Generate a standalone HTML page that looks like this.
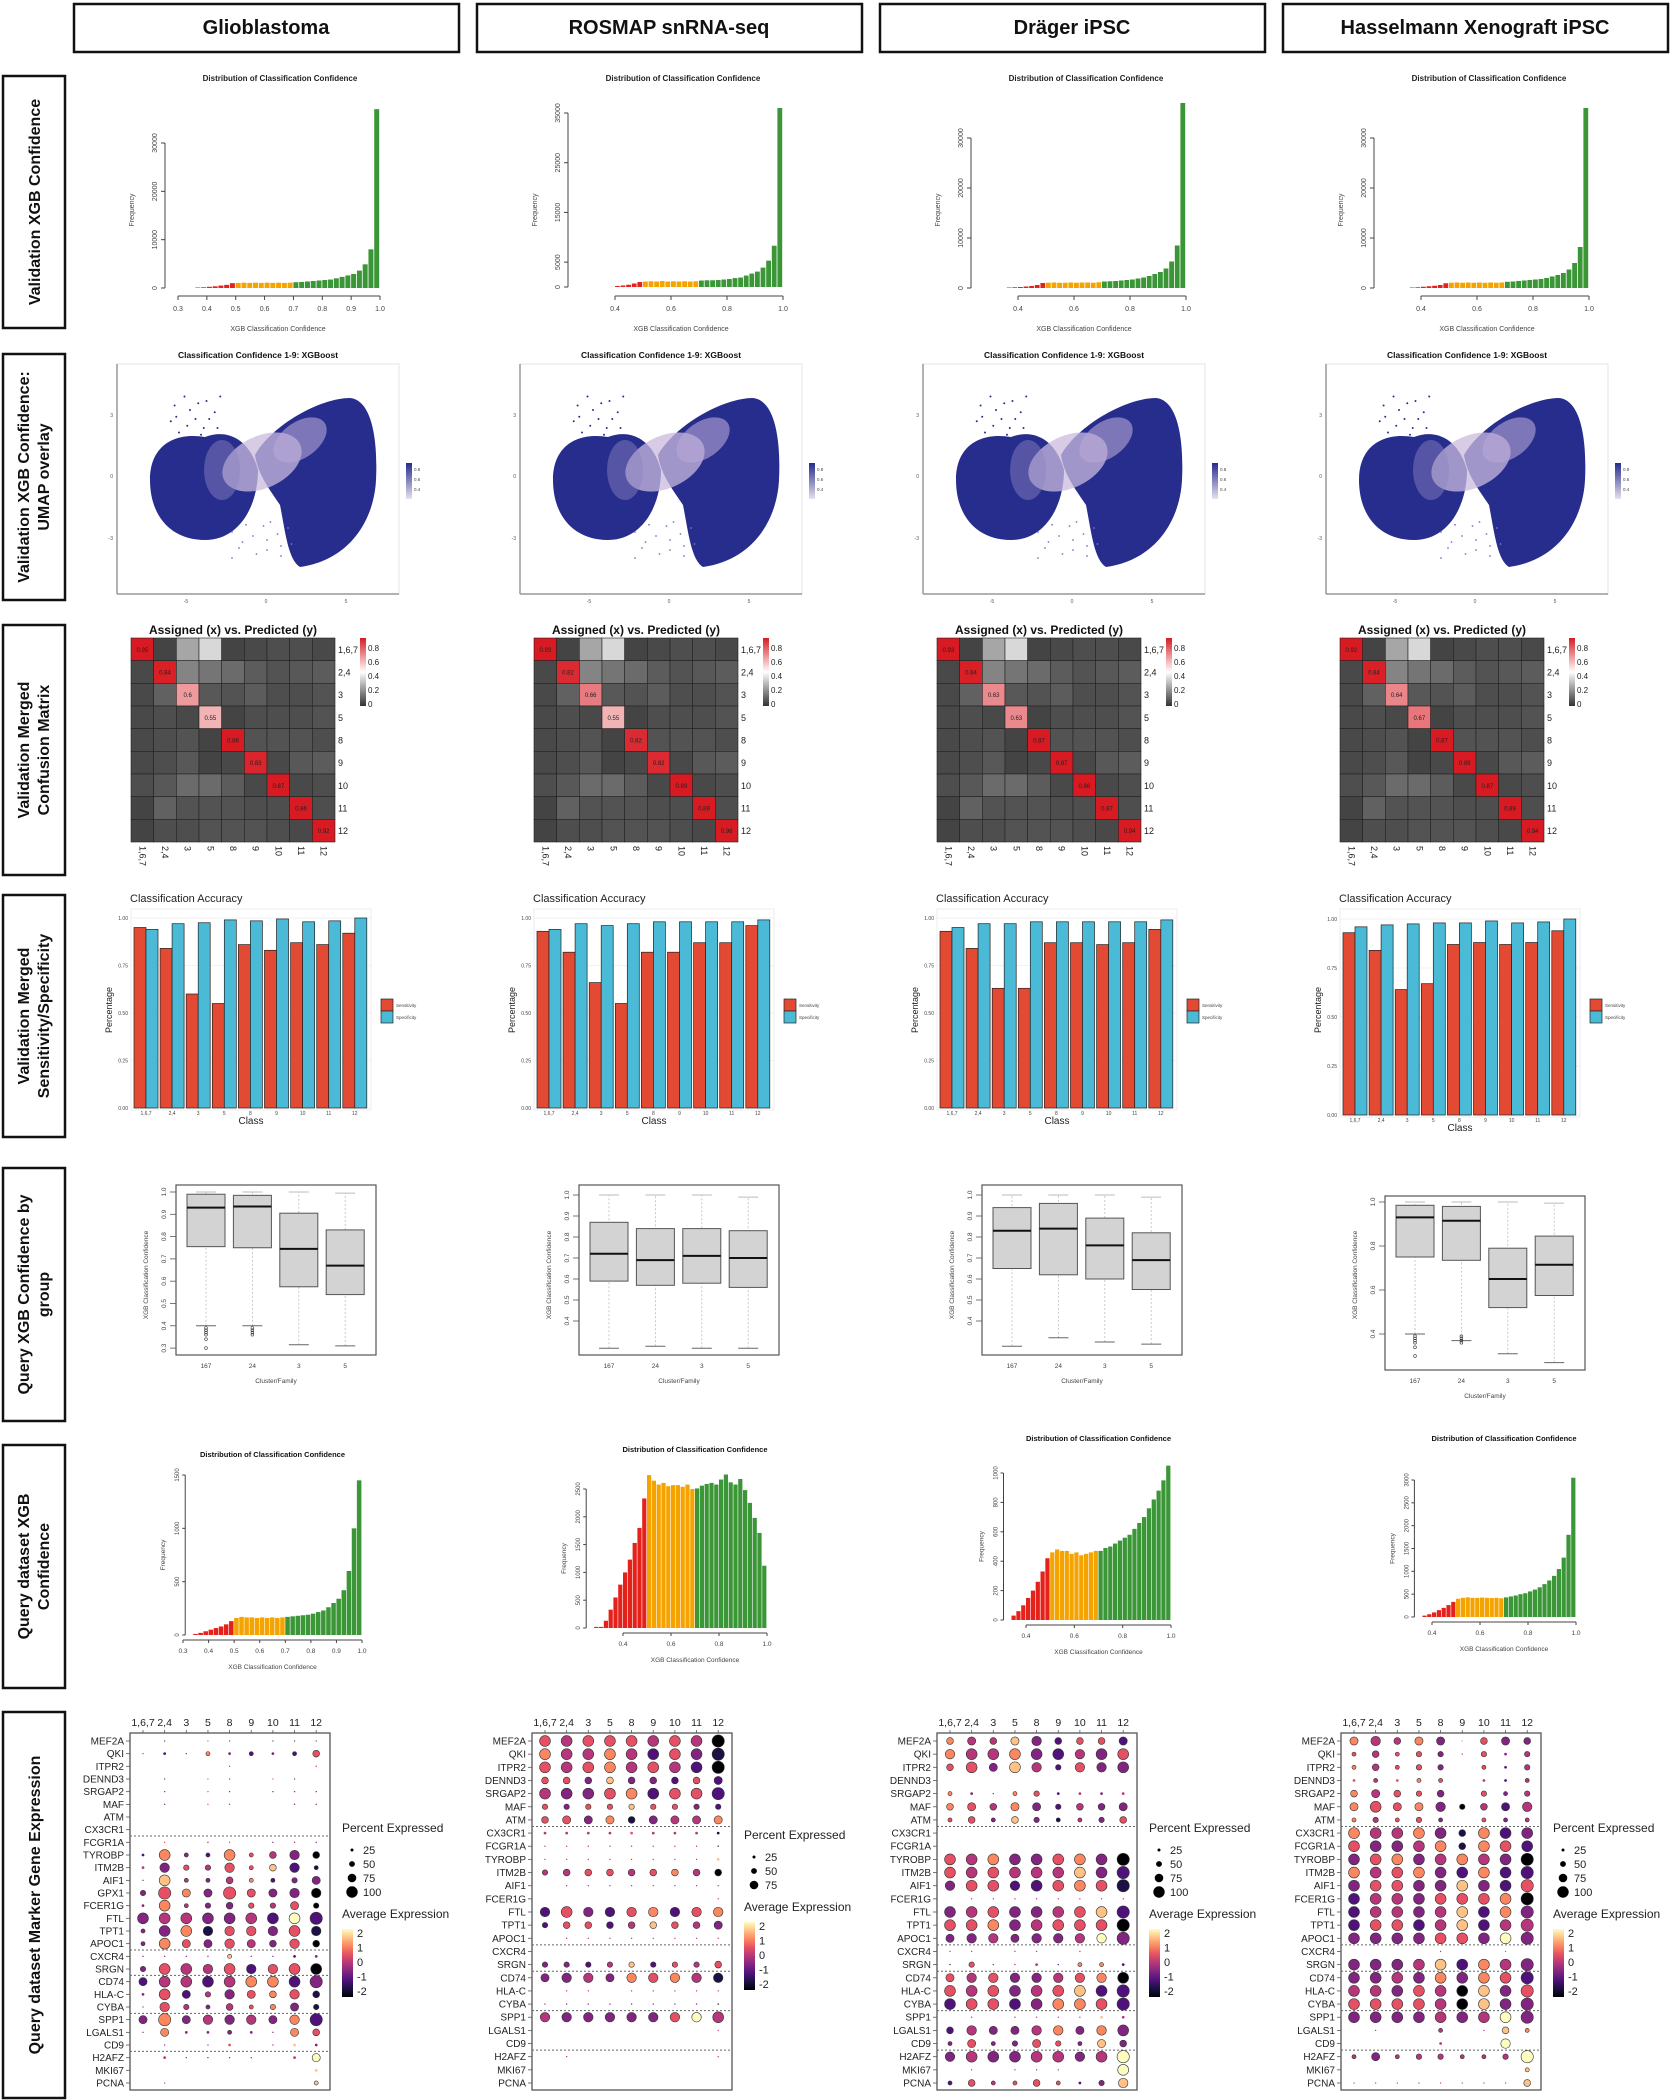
<!DOCTYPE html>
<html><head><meta charset="utf-8"><title>XGB classification figure</title>
<style>html,body{margin:0;padding:0;background:#fff;}svg{display:block;}</style></head>
<body>
<svg id="fig" xmlns="http://www.w3.org/2000/svg" width="1673" height="2100" viewBox="0 0 1673 2100"></svg>
<script>
// ---------- DATA ----------
const datasets=["Glioblastoma","ROSMAP snRNA-seq","Dr\u00e4ger iPSC","Hasselmann Xenograft iPSC"];
const rowLabels=[["Validation XGB Confidence"],["Validation XGB Confidence:","UMAP overlay"],["Validation Merged","Confusion Matrix"],["Validation Merged","Sensitivity/Specificity"],["Query XGB Confidence by","group"],["Query dataset  XGB","Confidence"],["Query dataset Marker Gene Expression"]];
const classes=["1,6,7","2,4","3","5","8","9","10","11","12"];
const groups=["167","24","3","5"];
// validation histogram
const valStart=[0.36,0.40,0.36,0.36];
const valCounts=[
[100,150,250,350,500,650,1000,1050,1100,1050,1100,1050,1100,1050,1100,1050,1100,1200,1250,1350,1450,1550,1650,1750,2000,2300,2600,2900,3600,4900,8000,37000],
[200,300,450,700,1000,1100,1150,1100,1200,1100,1150,1100,1150,1100,1150,1300,1350,1350,1400,1500,1600,1800,1900,2300,2700,3100,3900,5300,8300,36000],
[100,150,200,300,400,600,1000,1050,1100,1050,1050,1100,1050,1100,1100,1050,1150,1300,1350,1400,1500,1600,1700,1900,2100,2400,2800,3200,3900,5300,8500,37000],
[100,150,250,350,450,600,950,1050,1100,1050,1100,1050,1100,1050,1100,1050,1100,1250,1300,1400,1500,1600,1700,1800,2000,2300,2600,3000,3700,5000,8200,36000]];
const valYTicks=[[0,10000,20000,30000],[0,5000,15000,25000,35000],[0,10000,20000,30000],[0,10000,20000,30000]];
// confusion
const confDiag=[[0.95,0.84,0.6,0.55,0.86,0.83,0.87,0.86,0.92],[0.93,0.82,0.66,0.55,0.82,0.82,0.89,0.89,0.96],[0.93,0.84,0.63,0.63,0.87,0.87,0.86,0.87,0.94],[0.92,0.84,0.64,0.67,0.87,0.89,0.87,0.89,0.94]];
const confOff=[[0,.02,.22,.32,.02,.03,.04,.04,.03],[.03,0,.15,.12,.1,.07,.05,.06,.07],[.03,.08,0,.06,.05,.07,.04,.04,.05],[.03,.04,.03,0,.02,.04,.04,.04,.05],[.03,.04,.05,.02,0,.05,.05,.05,.04],[.03,.04,.06,.02,.03,0,.03,.06,.07],[.04,.06,.1,.1,.07,.03,0,.03,.04],[.02,.08,.05,.05,.05,.04,.04,0,.04],[.02,.04,.04,.05,.05,.05,.04,.03,0]];
// sensitivity / specificity
const sens=[[0.95,0.84,0.60,0.55,0.86,0.83,0.87,0.86,0.92],[0.93,0.82,0.66,0.55,0.82,0.82,0.87,0.87,0.96],[0.93,0.84,0.63,0.63,0.87,0.87,0.86,0.87,0.94],[0.93,0.84,0.64,0.67,0.87,0.88,0.87,0.88,0.94]];
const spec=[[0.94,0.97,0.975,0.99,0.985,0.995,0.98,0.985,1.0],[0.94,0.97,0.96,0.97,0.98,0.98,0.98,0.98,0.99],[0.95,0.97,0.97,0.98,0.98,0.98,0.98,0.98,0.99],[0.96,0.97,0.975,0.98,0.98,0.99,0.98,0.985,1.0]];
// boxplots [lowWhisker,q1,median,q3,highWhisker]
const boxStats=[
[[0.40,0.755,0.93,0.99,1.0],[0.40,0.75,0.935,0.985,1.0],[0.315,0.575,0.745,0.905,1.0],[0.31,0.54,0.67,0.83,0.995]],
[[0.27,0.59,0.72,0.87,1.0],[0.28,0.57,0.69,0.84,1.0],[0.27,0.58,0.71,0.84,1.0],[0.27,0.56,0.70,0.83,0.99]],
[[0.28,0.65,0.83,0.94,1.0],[0.32,0.62,0.84,0.96,1.0],[0.30,0.60,0.76,0.89,1.0],[0.29,0.55,0.69,0.82,0.99]],
[[0.40,0.75,0.93,0.985,1.0],[0.37,0.735,0.915,0.98,1.0],[0.31,0.52,0.65,0.79,1.0],[0.27,0.575,0.715,0.845,0.995]]];
const boxOutliers=[[0.39,0.38,0.37,0.36,0.34,0.30],[0.39,0.38,0.37,0.36],[],[]];
const boxYTicks=[[0.3,0.4,0.5,0.6,0.7,0.8,0.9,1.0],[0.4,0.5,0.6,0.7,0.8,0.9,1.0],[0.4,0.5,0.6,0.7,0.8,0.9,1.0],[0.4,0.6,0.8,1.0]];
// query histograms
const qStart=[0.34,0.28,0.34,0.36];
const qCounts=[
[10,20,35,50,65,80,100,130,160,170,165,165,160,165,160,165,160,165,170,175,180,185,190,200,215,230,260,300,340,420,600,1000,1450],
[20,20,130,330,550,780,1000,1230,1530,1800,2330,2750,2650,2580,2610,2550,2570,2570,2540,2580,2500,2510,2560,2590,2610,2580,2670,2760,2620,2580,2680,2480,2250,1980,1710,1120],
[30,60,100,150,200,260,330,420,460,480,470,470,450,460,440,450,460,470,470,490,500,520,540,560,580,620,660,700,760,820,880,950,1050],
[30,60,100,150,200,260,330,400,420,430,420,420,425,420,415,420,410,430,450,470,500,520,560,600,650,720,800,900,1050,1300,1800,3050]];
const qYTicks=[[0,500,1000,1500],[0,500,1000,1500,2000,2500],[0,200,400,600,800,1000],[0,500,1000,1500,2000,2500,3000]];
const qXTicks=[[0.3,0.4,0.5,0.6,0.7,0.8,0.9,1.0],[0.4,0.6,0.8,1.0],[0.4,0.6,0.8,1.0],[0.4,0.6,0.8,1.0]];
// dot plots
const genesGlio=["MEF2A","QKI","ITPR2","DENND3","SRGAP2","MAF","ATM","CX3CR1","FCGR1A","TYROBP","ITM2B","AIF1","GPX1","FCER1G","FTL","TPT1","APOC1","CXCR4","SRGN","CD74","HLA-C","CYBA","SPP1","LGALS1","CD9","H2AFZ","MKI67","PCNA"];
const genesOther=["MEF2A","QKI","ITPR2","DENND3","SRGAP2","MAF","ATM","CX3CR1","FCGR1A","TYROBP","ITM2B","AIF1","FCER1G","FTL","TPT1","APOC1","CXCR4","SRGN","CD74","HLA-C","CYBA","SPP1","LGALS1","CD9","H2AFZ","MKI67","PCNA"];
const dotPct=[
["010110111","121323235","000010001","010110110","010110111","010110011","000000000","000000000","010110111","283383575","274473573","183353346","496696677","283454464","888888889","388777787","386676575","111131122","488787788","688888889","286476575","174353464","696777679","162232165","010120122","021111026","000000002","010000003"],
["888888889","888888889","888888889","555555556","888888889","444444444","566656666","222222222","111111111","111111112","455555555","011111111","000000001","787777777","455555556","011111111","000000000","444444445","677677777","011011111","111111111","777777778","000000001","000000000","010000001","000000000","000000000"],
["565675556","788888788","586874778","000000000","321342222","565664556","353543345","000000000","000000000","888888889","888888889","788788889","011111111","888888889","888888889","677677779","110110100","141121332","677777778","888888889","888888889","010111122","576677678","363464365","788888789","010111008","353353247"],
["675661565","353441424","353440324","232330223","565450434","686674567","343430333","888885888","888885888","888888889","888888889","888888889","888888889","888888889","888888889","888888889","000010010","888888889","888888889","888888889","888888889","888888889","010030153","000020070","363443349","000000003","111111115"]];
const dotExp=[
["333533333","423632325","444444444","333533533","333533333","333543333","444444444","444444444","353353343","263265430","435455721","374346233","356355330","364335450","344334282","336155351","365354350","333373323","354452550","244246623","352435651","354345631","363434362","363333365","333353373","343333348","444444447","444444447"],
["545554540","644642531","545645420","553733252","433562552","535575532","553613446","444454441","444444441","444444447","445545640","444444444","444444444","253256256","255247543","444444444","444444444","332472545","334365641","444444444","433333330","433333584","444444444","444444444","444444444","444444444","444444444"],
["644732552","644632435","553742533","444444444","633652434","654632433","553731435","444444444","444444444","546335630","545444732","355225651","344444444","345334572","556345550","334333483","444444444","253442662","545334560","545345722","255236652","444444474","243346363","353355373","343344348","444444448","254555237"],
["644636533","545534534","645534524","545654424","645535534","655630424","645534534","644631623","533461652","356346430","645632622","355337325","244355560","244347263","255247244","333355383","444444454","333472643","334363652","443540735","555540733","333343483","444444476","444444484","434444448","444444447","444444447"]];
const dotSeps=[[8,17,19,22,25],[7,16,18,21,24],[7,16,18,21,24],[7,16,18,21,24]];
const pctLegend=[["25","50","75","100"],["25","50","75"],["25","50","75","100"],["25","50","75","100"]];
const expTicks=["2","1","0","-1","-2"];

// ---------- HELPERS ----------
const NS='http://www.w3.org/2000/svg';
const svg=document.getElementById('fig');
const DX=[0,403,806,1209];
const FONT='"Liberation Sans", Arial, sans-serif';
const MAGMA=["#000004","#1c1044","#4f127b","#812581","#b5367a","#e55064","#fb8761","#fec287","#fcfdbf"];
function mk(tag,attrs,name,parent){
  const e=document.createElementNS(NS,tag);
  for(const k in attrs) e.setAttribute(k,attrs[k]);
  
  
  (parent||svg).appendChild(e);
  return e;
}
function tx(x,y,s,o,name,parent){
  const a=Object.assign({x:x,y:y,'font-family':FONT,fill:'#222'},o||{});
  const e=mk('text',a,name,parent); e.textContent=s; return e;
}
function lin(x1,y1,x2,y2,st,w,name,p,extra){
  return mk('line',Object.assign({x1:x1,y1:y1,x2:x2,y2:y2,stroke:st,'stroke-width':w},extra||{}),name,p);
}
function binColor(v){const r=Math.round(v*100);return r<50?'#e5211b':(r<70?'#f5a300':'#3a9636');}
function hexMix(a,b,t){const pa=[1,3,5].map(i=>parseInt(a.substr(i,2),16)),pb=[1,3,5].map(i=>parseInt(b.substr(i,2),16));
  return 'rgb('+pa.map((v,i)=>Math.round(v+(pb[i]-v)*t)).join(',')+')';}
function confColor(v){if(v<=0.4)return hexMix('#3a3a3a','#ffffff',v/0.4);return hexMix('#ffffff','#d81b22',Math.min(1,(v-0.4)/0.45));}

// ---------- HEADERS & ROW LABELS ----------
for(let c=0;c<4;c++){
  const g=mk('g',{},'dataset-header-'+c);
  mk('rect',{x:74+DX[c],y:4,width:385,height:48,fill:'#fff',stroke:'#111','stroke-width':2.5},'header-box',g);
  tx(74+DX[c]+192,34,datasets[c],{'font-size':20,'font-weight':'bold','text-anchor':'middle',fill:'#111'},'header-title',g);
}
const rowBoxes=[[76,328],[354,600],[625,875],[895,1137],[1168,1421],[1445,1688],[1712,2098]];
rowBoxes.forEach((b,i)=>{
  const g=mk('g',{},'row-label-'+i);
  mk('rect',{x:3,y:b[0],width:62,height:b[1]-b[0],fill:'#fff',stroke:'#111','stroke-width':2.5},'row-label-box',g);
  const cy=(b[0]+b[1])/2, L=rowLabels[i];
  L.forEach((s,j)=>{
    const x=L.length===1?40:(29+j*20);
    tx(x,cy,s,{'font-size':16,'font-weight':'bold','text-anchor':'middle',fill:'#111',transform:'rotate(-90 '+x+' '+cy+')'},'row-label-text',g);
  });
});

// ---------- ROW 1: validation histograms ----------
for(let c=0;c<4;c++){
  const g=mk('g',{},'validation-histogram-'+c), d=DX[c];
  const x0=c===0?0.3:0.4, px0=(c===0?178:212)+d, px1=380+d;
  const X=v=>px0+(v-x0)/(1-x0)*(px1-px0);
  const y0=c===1?287:288, yTopVal=c===1?35000:30000, yTopPx=c===0?143:(c===1?113:138);
  const Y=v=>y0-v/yTopVal*(y0-yTopPx);
  tx(280+d,81,'Distribution of Classification Confidence',{'font-size':8,'font-weight':'bold','text-anchor':'middle'},'chart-title',g);
  valCounts[c].forEach((v,i)=>{const b=valStart[c]+i*0.02;
    mk('rect',{x:X(b),y:Y(v),width:X(b+0.02)-X(b)-0.8,height:y0-Y(v),fill:binColor(b)},'hist-bar',g);});
  const ticks=c===0?[0.3,0.4,0.5,0.6,0.7,0.8,0.9,1.0]:[0.4,0.6,0.8,1.0];
  lin(X(ticks[0]),296,X(1),296,'#444',1,'x-axis',g);
  ticks.forEach(t=>{lin(X(t),296,X(t),300,'#444',1,'x-tick',g);tx(X(t),311,t.toFixed(1),{'font-size':7,'text-anchor':'middle',fill:'#444'},'x-tick-label',g);});
  const yt=valYTicks[c];
  lin(165+d,Y(yt[0]),165+d,Y(yt[yt.length-1]),'#444',1,'y-axis',g);
  yt.forEach(t=>{lin(161+d,Y(t),165+d,Y(t),'#444',1,'y-tick',g);
    tx(157+d,Y(t),String(t),{'font-size':7,'text-anchor':'middle',fill:'#444',transform:'rotate(-90 '+(157+d)+' '+Y(t)+')'},'y-tick-label',g);});
  tx(278+d,331,'XGB Classification Confidence',{'font-size':7,'text-anchor':'middle',fill:'#444'},'x-axis-title',g);
  tx(134+d,210,'Frequency',{'font-size':7,'text-anchor':'middle',fill:'#444',transform:'rotate(-90 '+(134+d)+' 210)'},'y-axis-title',g);
}

// ---------- ROW 2: UMAP overlays ----------
const dotSeed=[[0.12,0.3],[0.3,0.1],[0.5,0.6],[0.7,0.2],[0.9,0.8],[0.2,0.9],[0.4,0.4],[0.6,0.95],[0.85,0.45],[0.05,0.65],[0.35,0.75],[0.75,0.6],[0.55,0.25],[0.95,0.1],[0.15,0.55],[0.65,0.8]];
for(let c=0;c<4;c++){
  const g=mk('g',{},'umap-panel-'+c), d=DX[c];
  tx(258+d,358,'Classification Confidence 1-9: XGBoost',{'font-size':8.5,'font-weight':'bold','text-anchor':'middle',fill:'#111'},'umap-title',g);
  mk('rect',{x:117+d,y:364,width:282,height:230,fill:'#fff',stroke:'#e4e4e4','stroke-width':1},'umap-frame',g);
  lin(117+d,364,117+d,594,'#999',1.5,'umap-y-axis',g);
  lin(117+d,594,399+d,594,'#999',1.5,'umap-x-axis',g);
  [['3',415],['0',476],['-3',538]].forEach(t=>{tx(113+d,t[1]+2,t[0],{'font-size':5,'text-anchor':'end',fill:'#555'},'umap-y-tick',g);});
  [['-5',186],['0',266],['5',346]].forEach(t=>{tx(t[1]+d,603,t[0],{'font-size':5,'text-anchor':'middle',fill:'#555'},'umap-x-tick',g);});
  const B='#272d8c';
  mk('path',{d:`M${d+150},${480} C${d+150},${445} ${d+175},${432} ${d+205},${437} C${d+228},${428} ${d+250},${440} ${d+258},${470} C${d+258},${505} ${d+240},${540} ${d+205},${540} C${d+170},${540} ${d+150},${515} ${d+150},${480} Z`,fill:B},'umap-left-cluster',g);
  mk('path',{d:`M${d+255},${455} C${d+272},${425} ${d+320},${398} ${d+350},${398} C${d+372},${400} ${d+378},${440} ${d+376},${480} C${d+374},${520} ${d+350},${560} ${d+300},${567} C${d+288},${560} ${d+285},${530} ${d+280},${505} C${d+270},${490} ${d+258},${475} ${d+255},${455} Z`,fill:B},'umap-right-cluster',g);
  mk('ellipse',{cx:d+262,cy:462,rx:42,ry:26,fill:'#c9b9dd',opacity:0.75,transform:`rotate(-25 ${d+262} 462)`},'umap-low-confidence-region',g);
  mk('ellipse',{cx:d+300,cy:440,rx:30,ry:18,fill:'#b7a6d6',opacity:0.6,transform:`rotate(-35 ${d+300} 440)`},'umap-low-confidence-region',g);
  mk('ellipse',{cx:d+222,cy:470,rx:18,ry:30,fill:'#8f84c4',opacity:0.45},'umap-mixed-region',g);
  dotSeed.forEach(p=>{mk('circle',{cx:d+168+p[0]*55,cy:392+p[1]*45,r:1,fill:B},'umap-cell',g);
    mk('circle',{cx:d+225+p[1]*70,cy:520+p[0]*40,r:0.9,fill:'#7f76bb'},'umap-cell',g);});
  const gd=mk('linearGradient',{id:'ug'+c,x1:0,y1:0,x2:0,y2:1},'umap-gradient',g);
  mk('stop',{offset:'0','stop-color':'#262c8c'},'stop',gd);mk('stop',{offset:'1','stop-color':'#e6e0ef'},'stop',gd);
  mk('rect',{x:406+d,y:463,width:6,height:36,fill:'url(#ug'+c+')'},'umap-colorbar',g);
  [['0.8',471],['0.6',481],['0.4',491]].forEach(t=>tx(414+d,t[1],t[0],{'font-size':4.5,fill:'#444'},'umap-colorbar-label',g));
}

// ---------- ROW 3: confusion matrices ----------
for(let c=0;c<4;c++){
  const g=mk('g',{},'confusion-matrix-'+c), d=DX[c];
  const gx=131+d, gy=638, cs=204/9;
  tx(233+d,634,'Assigned (x) vs. Predicted (y)',{'font-size':12,'font-weight':'bold','text-anchor':'middle',fill:'#111'},'confusion-title',g);
  for(let r=0;r<9;r++)for(let k=0;k<9;k++){
    const v=r===k?confDiag[c][r]:confOff[r][k];
    mk('rect',{x:gx+k*cs,y:gy+r*cs,width:cs,height:cs,fill:confColor(v),stroke:'#222','stroke-width':0.6},'confusion-cell',g);
    if(r===k) tx(gx+k*cs+cs/2,gy+r*cs+cs/2+2.5,String(v),{'font-size':6,'text-anchor':'middle',fill:'#222'},'confusion-value',g);
  }
  classes.forEach((s,i)=>{
    tx(gx+204+3,gy+i*cs+cs/2+3.5,s,{'font-size':9,fill:'#222'},'confusion-row-label',g);
    const x=gx+i*cs+cs/2-3;
    tx(x,gy+208,s,{'font-size':9,fill:'#222',transform:'rotate(90 '+x+' '+(gy+208)+')'},'confusion-col-label',g);
  });
  const gd=mk('linearGradient',{id:'cg'+c,x1:0,y1:0,x2:0,y2:1},'confusion-gradient',g);
  mk('stop',{offset:'0','stop-color':'#d81b22'},'stop',gd);mk('stop',{offset:'0.5','stop-color':'#ffffff'},'stop',gd);mk('stop',{offset:'1','stop-color':'#333'},'stop',gd);
  mk('rect',{x:360+d,y:638,width:6,height:68,fill:'url(#cg'+c+')'},'confusion-colorbar',g);
  [['0.8',651],['0.6',665],['0.4',679],['0.2',693],['0',707]].forEach(t=>tx(368+d,t[1],t[0],{'font-size':8,fill:'#222'},'confusion-colorbar-label',g));
}

// ---------- ROW 4: sensitivity / specificity ----------
for(let c=0;c<4;c++){
  const g=mk('g',{},'accuracy-bar-chart-'+c), d=DX[c];
  const y0=c===3?1115:1108, y1=c===3?919:918;
  const Y=v=>y0-v*(y0-y1);
  mk('rect',{x:131+d,y:909,width:240,height:y0-909+2,fill:'#fff',stroke:'#eee'},'plot-panel',g);
  [0,0.25,0.5,0.75,1].forEach(t=>{lin(131+d,Y(t),371+d,Y(t),'#eee',0.8,'grid-line',g);
    tx(128+d,Y(t)+2,t.toFixed(2),{'font-size':5,'text-anchor':'end',fill:'#444'},'y-tick-label',g);});
  classes.forEach((s,i)=>{const bx=134+d+i*26.1;
    mk('rect',{x:bx,y:Y(sens[c][i]),width:12,height:y0-Y(sens[c][i]),fill:'#e34a33',stroke:'#222','stroke-width':0.7},'bar-sensitivity',g);
    mk('rect',{x:bx+12,y:Y(spec[c][i]),width:12,height:y0-Y(spec[c][i]),fill:'#4bbad6',stroke:'#222','stroke-width':0.7},'bar-specificity',g);
    tx(bx+12,y0+7,s,{'font-size':5,'text-anchor':'middle',fill:'#444'},'x-tick-label',g);});
  tx(130+d,902,'Classification Accuracy',{'font-size':11,fill:'#222'},'chart-title',g);
  tx(251+d,y0+16,'Class',{'font-size':10,'text-anchor':'middle',fill:'#222'},'x-axis-title',g);
  tx(112+d,1010,'Percentage',{'font-size':9,'text-anchor':'middle',fill:'#222',transform:'rotate(-90 '+(112+d)+' 1010)'},'y-axis-title',g);
  mk('rect',{x:381+d,y:999,width:12,height:12,fill:'#e34a33',stroke:'#222','stroke-width':0.7},'legend-sensitivity-key',g);
  mk('rect',{x:381+d,y:1011,width:12,height:12,fill:'#4bbad6',stroke:'#222','stroke-width':0.7},'legend-specificity-key',g);
  tx(396+d,1007,'Sensitivity',{'font-size':4.5,fill:'#444'},'legend-sensitivity-label',g);
  tx(396+d,1019,'Specificity',{'font-size':4.5,fill:'#444'},'legend-specificity-label',g);
}

// ---------- ROW 5: boxplots ----------
for(let c=0;c<4;c++){
  const g=mk('g',{},'confidence-boxplot-'+c), d=DX[c];
  const yOne=c===0?1192:(c===3?1202:1195), slope=c===0?223:(c===3?220:210);
  const Y=v=>yOne+(1-v)*slope;
  const fy=c===3?1196:1185, fh=c===3?174:170;
  mk('rect',{x:176+d,y:fy,width:200,height:fh,fill:'#fff',stroke:'#555','stroke-width':1.2},'boxplot-frame',g);
  boxYTicks[c].forEach(t=>{lin(170+d,Y(t),176+d,Y(t),'#555',0.8,'y-tick',g);
    tx(166+d,Y(t),t.toFixed(1),{'font-size':6.5,'text-anchor':'middle',fill:'#444',transform:'rotate(-90 '+(166+d)+' '+Y(t)+')'},'y-tick-label',g);});
  groups.forEach((s,i)=>{const cx=206+d+i*46.4, b=boxStats[c][i];
    lin(cx,Y(b[0]),cx,Y(b[4]),'#bbb',0.8,'whisker',g,{'stroke-dasharray':'2,2'});
    lin(cx-10,Y(b[0]),cx+10,Y(b[0]),'#666',1,'whisker-cap',g);
    lin(cx-10,Y(b[4]),cx+10,Y(b[4]),'#bbb',1,'whisker-cap',g);
    mk('rect',{x:cx-19,y:Y(b[3]),width:38,height:Y(b[1])-Y(b[3]),fill:'#d3d3d3',stroke:'#555','stroke-width':1},'box',g);
    lin(cx-19,Y(b[2]),cx+19,Y(b[2]),'#111',2,'median-line',g);
    tx(cx,fy+fh+13,s,{'font-size':6.5,'text-anchor':'middle',fill:'#444'},'x-tick-label',g);
    if(i<2&&(c===0||c===3)) boxOutliers[i].forEach(o=>mk('circle',{cx:cx,cy:Y(o),r:1.4,fill:'none',stroke:'#333','stroke-width':0.6},'outlier',g));
  });
  tx(276+d,fy+fh+28,'Cluster/Family',{'font-size':6.5,'text-anchor':'middle',fill:'#444'},'x-axis-title',g);
  tx(148+d,1275,'XGB Classification Confidence',{'font-size':6.5,'text-anchor':'middle',fill:'#444',transform:'rotate(-90 '+(148+d)+' 1275)'},'y-axis-title',g);
}

// ---------- ROW 6: query histograms ----------
const qLay=[{x0:0.3,px0:183,px1:362,y0:1635,tv:1500,ty:1475,title:1457},{x0:0.4,px0:623,px1:767,y0:1628,tv:2500,ty:1489,title:1452},{x0:0.4,px0:1026,px1:1171,y0:1620,tv:1000,ty:1473,title:1441},{x0:0.4,px0:1432,px1:1576,y0:1617,tv:3000,ty:1480,title:1441}];
for(let c=0;c<4;c++){
  const g=mk('g',{},'query-histogram-'+c), L=qLay[c];
  const X=v=>L.px0+(v-L.x0)/(1-L.x0)*(L.px1-L.px0);
  const Y=v=>L.y0-v/L.tv*(L.y0-L.ty);
  tx((X(L.x0)+X(1))/2,L.title,'Distribution of Classification Confidence',{'font-size':7.5,'font-weight':'bold','text-anchor':'middle',fill:'#111'},'chart-title',g);
  qCounts[c].forEach((v,i)=>{const b=qStart[c]+i*0.02;
    mk('rect',{x:X(b),y:Y(v),width:X(b+0.02)-X(b)-0.6,height:L.y0-Y(v),fill:binColor(b)},'hist-bar',g);});
  const ax=L.y0+5, xt=qXTicks[c];
  lin(X(xt[0]),ax,X(1),ax,'#444',1,'x-axis',g);
  xt.forEach(t=>{lin(X(t),ax,X(t),ax+3,'#444',1,'x-tick',g);tx(X(t),ax+13,t.toFixed(1),{'font-size':6.5,'text-anchor':'middle',fill:'#444'},'x-tick-label',g);});
  const yx=X(qStart[c])-8, yt=qYTicks[c];
  lin(yx,Y(0),yx,Y(yt[yt.length-1]),'#444',1,'y-axis',g);
  yt.forEach(t=>{lin(yx-3,Y(t),yx,Y(t),'#444',1,'y-tick',g);
    tx(yx-6,Y(t),String(t),{'font-size':6,'text-anchor':'middle',fill:'#444',transform:'rotate(-90 '+(yx-6)+' '+Y(t)+')'},'y-tick-label',g);});
  tx((X(L.x0)+X(1))/2,ax+29,'XGB Classification Confidence',{'font-size':6.5,'text-anchor':'middle',fill:'#444'},'x-axis-title',g);
  const fx=yx-20, fyy=(Y(0)+Y(yt[yt.length-1]))/2;
  tx(fx,fyy,'Frequency',{'font-size':6.5,'text-anchor':'middle',fill:'#444',transform:'rotate(-90 '+fx+' '+fyy+')'},'y-axis-title',g);
}

// ---------- ROW 7: dot plots ----------
const FL=[130,532,937,1341];
for(let c=0;c<4;c++){
  const g=mk('g',{},'marker-dotplot-'+c), f=FL[c];
  const genes=c===0?genesGlio:genesOther, n=genes.length, dy=342/(n-1);
  const X=j=>f+13+j*21.65, Yr=k=>1741+k*dy;
  mk('rect',{x:f,y:1733,width:200,height:357,fill:'#fff',stroke:'#555','stroke-width':1.3},'dotplot-frame',g);
  classes.forEach((s,j)=>{tx(X(j),1726,s,{'font-size':10.5,'text-anchor':'middle',fill:'#222'},'dotplot-column-label',g);
    lin(X(j),1730,X(j),1733,'#555',0.8,'x-tick',g);});
  genes.forEach((s,k)=>{tx(f-6,Yr(k)+3.5,s,{'font-size':10,'text-anchor':'end',fill:'#222'},'gene-label',g);
    lin(f-4,Yr(k),f,Yr(k),'#555',0.8,'y-tick',g);});
  dotSeps[c].forEach(k=>lin(f,Yr(k)-dy/2,f+200,Yr(k)-dy/2,'#666',1,'group-separator',g,{'stroke-dasharray':'2,2'}));
  for(let k=0;k<n;k++)for(let j=0;j<9;j++){
    const p=+dotPct[c][k][j], e=+dotExp[c][k][j];
    if(p>0) mk('circle',{cx:X(j),cy:Yr(k),r:p*0.68,fill:MAGMA[e],stroke:p>2?'#333':'none','stroke-width':0.6},'expression-dot',g);
  }
  const lx=f+212, ly=c===1?1839:1832;
  tx(lx,ly,'Percent Expressed',{'font-size':12,fill:'#222'},'legend-size-title',g);
  pctLegend[c].forEach((s,i)=>{const yy=ly+18+i*14;
    mk('circle',{cx:lx+10,cy:yy,r:1.5+i*1.4,fill:'#000'},'legend-size-dot',g);
    tx(lx+21,yy+4,s,{'font-size':11,fill:'#222'},'legend-size-label',g);});
  const ay=c===1?1911:1918;
  tx(lx,ay,'Average Expression',{'font-size':12,fill:'#222'},'legend-color-title',g);
  const gd=mk('linearGradient',{id:'mg'+c,x1:0,y1:0,x2:0,y2:1},'magma-gradient',g);
  MAGMA.slice().reverse().forEach((col,i)=>mk('stop',{offset:(i/8).toFixed(3),'stop-color':col},'stop',gd));
  mk('rect',{x:lx,y:ay+11,width:11,height:68,fill:'url(#mg'+c+')'},'legend-colorbar',g);
  expTicks.forEach((s,i)=>tx(lx+15,ay+19+i*14.5,s,{'font-size':11,fill:'#222'},'legend-color-label',g));
}
</script>
</body></html>
